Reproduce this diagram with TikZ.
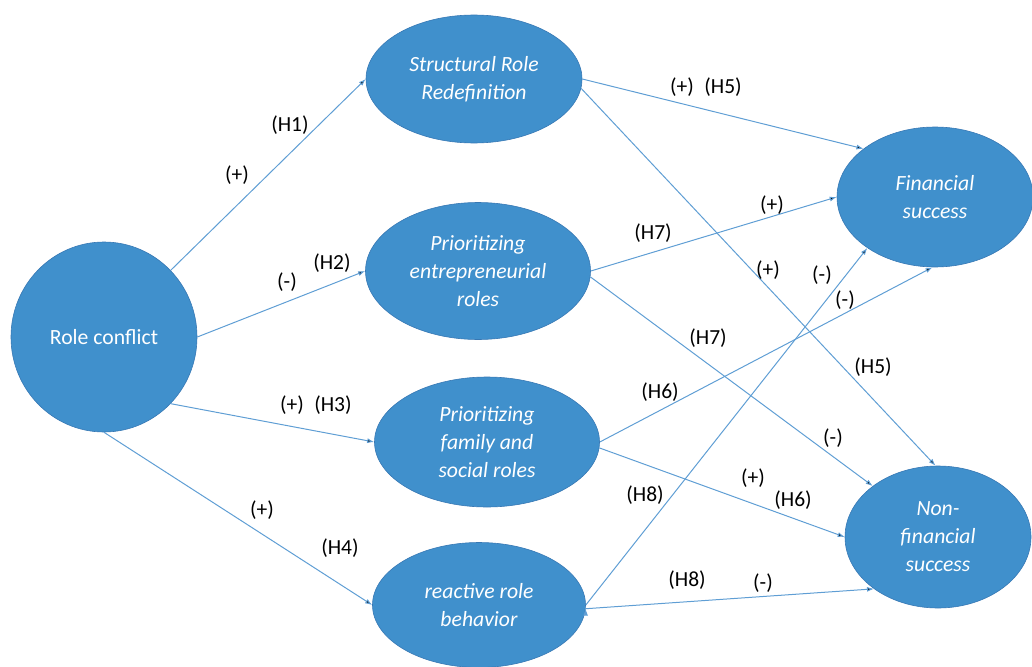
\documentclass[tikz,border=0pt]{standalone}
\usepackage{fontspec}
\setmainfont{Carlito}
\usetikzlibrary{arrows.meta, shapes.geometric, positioning}
\definecolor{nodeblue}{RGB}{64,144,204}
\definecolor{rimblue}{RGB}{55,120,180}
\definecolor{edgeblue}{RGB}{95,158,212}

\begin{document}
\begin{tikzpicture}[
        x=1pt, y=-1pt, >={Latex[length=7pt,width=5pt]},
        every node/.style={font=\fontsize{21.5}{24}\selectfont},
        var/.style={ellipse, fill=nodeblue, draw=rimblue, line width=0.6pt, text=white,
                    inner sep=0pt, align=center, font=\fontsize{21.7}{28}\selectfont\itshape},
        lbl/.style={text=black},
        link/.style={->, draw=edgeblue, line width=1pt},
        ]
        \useasboundingbox (0,0) rectangle (1032,666);

        % constructs
        \node[var, minimum width=186pt, minimum height=190pt, font=\fontsize{21.7}{28}\selectfont] (rc) at (104,337) {Role conflict};
        \node[var, minimum width=216pt, minimum height=128pt] (srd) at (474,79)  {Structural Role\\Redefinition};
        \node[var, minimum width=225pt, minimum height=137pt] (per) at (478,271) {Prioritizing\\entrepreneurial\\roles};
        \node[var, minimum width=225pt, minimum height=130pt] (pfs) at (487,442) {Prioritizing\\family and\\social roles};
        \node[var, minimum width=213pt, minimum height=125pt] (rrb) at (479,605) {reactive role\\behavior};
        \node[var, minimum width=196pt, minimum height=140pt] (fs)  at (935,197) {Financial\\success};
        \node[var, minimum width=186pt, minimum height=142pt] (nfs) at (938,537) {Non-\\financial\\success};

        % paths
        \path[link] (rc.45)   edge (srd.west)
                    (rc.east) edge (per.west)
                    (rc.-45)  edge (pfs.west)
                    (rc.south) edge (rrb.west)
                    (srd.east) edge (fs.146)
                    (srd.-5)  edge (nfs.92)
                    (per.east) edge (fs.west)
                    (per.-3)  edge (nfs.142)
                    (pfs.east) edge (fs.-92)
                    (pfs.-3)  edge (nfs.west)
                    (rrb.east) edge (fs.217)
                    (rrb.-2)  edge (nfs.219);

        % signs and hypotheses
        \node[lbl] (h1)  at (290,125) {(H1)};
        \node[lbl] (s1)  at (237,175) {(+)};
        \node[lbl] (h2)  at (332,263) {(H2)};
        \node[lbl] (s2)  at (287,282) {(-)};
        \node[lbl] (s3)  at (292,405) {(+)};
        \node[lbl] (h3)  at (333,405) {(H3)};
        \node[lbl] (s4)  at (262,510) {(+)};
        \node[lbl] (h4)  at (340,548) {(H4)};
        \node[lbl] (s5a) at (682,87)  {(+)};
        \node[lbl] (h5a) at (723,87)  {(H5)};
        \node[lbl] (s7a) at (772,205) {(+)};
        \node[lbl] (h7a) at (653,233) {(H7)};
        \node[lbl] (s5b) at (768,270) {(+)};
        \node[lbl] (s8a) at (822,275) {(-)};
        \node[lbl] (s6a) at (845,300) {(-)};
        \node[lbl] (h7b) at (708,338) {(H7)};
        \node[lbl] (h5b) at (873,367) {(H5)};
        \node[lbl] (h6a) at (660,392) {(H6)};
        \node[lbl] (s7b) at (833,438) {(-)};
        \node[lbl] (s6b) at (753,478) {(+)};
        \node[lbl] (h6b) at (793,500) {(H6)};
        \node[lbl] (h8a) at (645,495) {(H8)};
        \node[lbl] (h8b) at (687,580) {(H8)};
        \node[lbl] (s8b) at (763,583) {(-)};
      \end{tikzpicture}
\end{document}
